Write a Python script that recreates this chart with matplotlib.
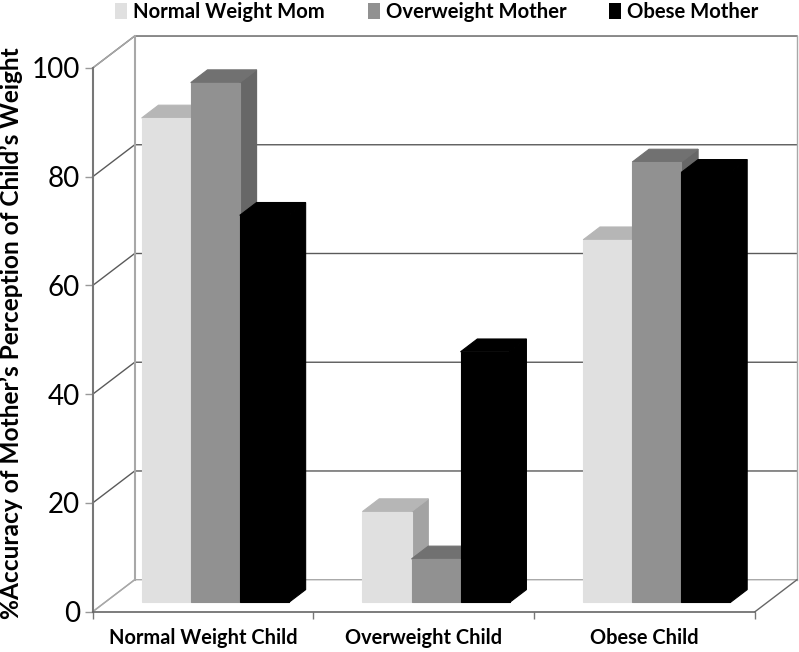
import matplotlib
matplotlib.use("Agg")
import matplotlib.pyplot as plt
from matplotlib.patches import Patch, Polygon

categories = ["Normal Weight Child", "Overweight Child", "Obese Child"]
series_names = ["Normal Weight Mom", "Overweight Mother", "Obese Mother"]
normal_mom = [89.1, 16.7, 66.7]
overweight_mom = [95.6, 8.0, 81.0]
obese_mom = [71.2, 46.1, 79.1]
y_ticks = [0, 20, 40, 60, 80, 100]

front_colors = ["#e0e0e0", "#919191", "#000000"]
top_colors = ["#b6b6b6", "#717171", "#000000"]
side_colors = ["#a3a3a3", "#676767", "#000000"]

W, H = 799, 652
# depth of the 3d box, in data units
DX = 42 / 220.8
DY = 32 / 5.44
BAR_W = 0.2222
D0, D1 = 0.29, 0.69


def proj(x, y, d):
    return (x + d * DX, y + d * DY)


def draw_bar(ax, x, v, i):
    pts_side = [proj(x + BAR_W, 0, D0), proj(x + BAR_W, 0, D1),
                proj(x + BAR_W, v, D1), proj(x + BAR_W, v, D0)]
    pts_top = [proj(x, v, D0), proj(x + BAR_W, v, D0),
               proj(x + BAR_W, v, D1), proj(x, v, D1)]
    pts_front = [proj(x, 0, D0), proj(x + BAR_W, 0, D0),
                 proj(x + BAR_W, v, D0), proj(x, v, D0)]
    for pts, c in [(pts_side, side_colors[i]), (pts_top, top_colors[i]), (pts_front, front_colors[i])]:
        ax.add_patch(Polygon(pts, closed=True, facecolor=c, edgecolor=c, lw=0.8, clip_on=False, zorder=3))


plt.rcParams["font.family"] = ["Lato", "DejaVu Sans"]

fig = plt.figure(figsize=(W / 100, H / 100), dpi=100)
ax = fig.add_axes([92.7 / W, 1 - 611.7 / H, (755 - 92.7) / W, (611.7 - 68) / H])
ax.set_xlim(0, 3)
ax.set_ylim(0, 100)
ax.patch.set_visible(False)

# back wall and floor
for v in y_ticks:
    c = "#a8a8a8" if v == 0 else "#5a5a5a"
    ax.plot([3 + DX, DX, 0], [v + DY, v + DY, v], color=c, lw=1.0, clip_on=False, zorder=1)
wall = "#a8a8a8"
ax.plot([DX, DX], [DY, 100 + DY], color=wall, lw=1.5, clip_on=False, zorder=1)
ax.plot([3 + DX, 3 + DX], [DY, 100 + DY], color=wall, lw=1.0, clip_on=False, zorder=1)
ax.plot([3, 3 + DX], [0, DY], color="#666666", lw=1.0, clip_on=False, zorder=1)
ax.plot([0, DX], [100, 100 + DY], color=wall, lw=1.0, clip_on=False, zorder=1)
ax.plot([0, DX], [0, DY], color=wall, lw=1.0, clip_on=False, zorder=1)

margin = (1 - 3 * BAR_W) / 2
for g in range(len(categories)):
    for i, vals in enumerate([normal_mom, overweight_mom, obese_mom]):
        draw_bar(ax, g + margin + i * BAR_W, vals[g], i)

for s in ["top", "right"]:
    ax.spines[s].set_visible(False)
ax.spines["left"].set_color("#777777")
ax.spines["left"].set_linewidth(1.5)
ax.spines["bottom"].set_color("#666666")
ax.spines["bottom"].set_linewidth(1.2)

ax.set_yticks(y_ticks)
ax.tick_params(axis="y", length=6, width=1, color="#999999", pad=3, labelsize=20)
ax.set_xticks([0, 1, 2, 3])
ax.set_xticklabels([])
ax.tick_params(axis="x", which="major", length=5, width=1, color="#777777")
ax.set_xticks([0.5, 1.5, 2.5], minor=True)
ax.set_xticklabels(categories, minor=True, fontweight="bold", fontsize=14.4)
ax.tick_params(axis="x", which="minor", length=0, pad=12)

ax.set_ylabel("%Accuracy of Mother\u2019s Perception of Child\u2019s Weight", fontweight="bold", fontsize=17.6)
ax.yaxis.set_label_coords(-70 / (755 - 92.7), (611.7 - 333) / (611.7 - 68))

handles = [Patch(facecolor=c, edgecolor="none") for c in front_colors]
ax.legend(handles, series_names, ncol=3, frameon=False,
          loc="upper left", bbox_to_anchor=(115 / W, 1 - 2 / H), bbox_transform=fig.transFigure,
          prop={"weight": "bold", "size": 14.6}, handlelength=0.59, handleheight=0.79,
          handletextpad=0.3, columnspacing=2.12, borderpad=0, borderaxespad=0)

fig.savefig("out.png", dpi=100)
